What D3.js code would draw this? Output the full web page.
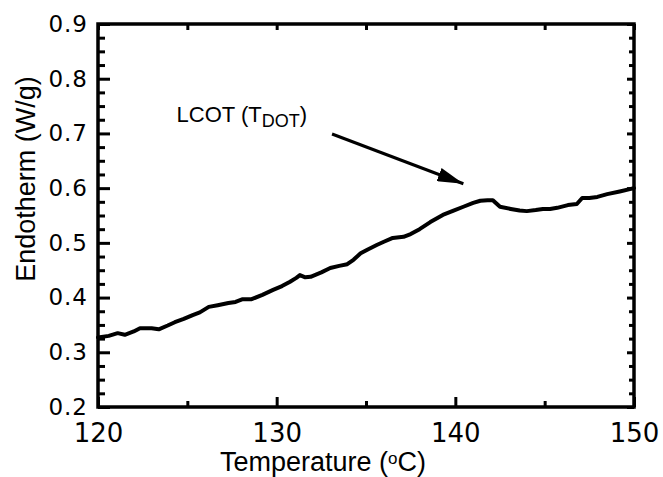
<!DOCTYPE html>
<html>
<head>
<meta charset="utf-8">
<script src="https://cdn.jsdelivr.net/npm/d3@7"></script>
<style>
  body { margin: 0; background: #fff; }
  svg { display: block; }
</style>
</head>
<body>
<div id="chart"></div>
<script>
// Data
const temperature = [
  120.0, 120.6, 121.1, 121.5, 122.0, 122.35, 123.0, 123.4, 123.9, 124.3,
  124.8, 125.3, 125.7, 126.2, 126.7, 127.3, 127.7, 128.1, 128.6, 129.2,
  129.8, 130.3, 130.75, 131.1, 131.3, 131.6, 131.9, 132.5, 133.0, 133.5,
  133.95, 134.3, 134.7, 135.1, 135.6, 136.0, 136.5, 137.1, 137.5, 138.0,
  138.6, 139.3, 139.9, 140.45, 141.0, 141.4, 141.8, 142.1, 142.3, 142.5,
  143.1, 143.6, 144.0, 144.5, 144.9, 145.3, 145.7, 146.3, 146.8, 147.1,
  147.5, 147.95, 148.5, 149.2, 150.0
];
const endotherm = [
  0.327, 0.330, 0.335, 0.332, 0.338, 0.344, 0.344, 0.342, 0.349, 0.355,
  0.361, 0.368, 0.373, 0.383, 0.386, 0.390, 0.392, 0.397, 0.397, 0.405,
  0.414, 0.421, 0.429, 0.436, 0.441, 0.437, 0.438, 0.446, 0.454, 0.458,
  0.461, 0.469, 0.481, 0.488, 0.496, 0.502, 0.509, 0.511, 0.516, 0.525,
  0.538, 0.551, 0.559, 0.566, 0.573, 0.577, 0.578, 0.578, 0.572, 0.566,
  0.562, 0.559, 0.558, 0.560, 0.562, 0.562, 0.564, 0.569, 0.571, 0.582,
  0.582, 0.584, 0.589, 0.594, 0.600
];
const xTicks = [120, 130, 140, 150];
const xMinor = [125, 135, 145];
const yTicks = [0.2, 0.3, 0.4, 0.5, 0.6, 0.7, 0.8, 0.9];
const yMinor = d3.range(0.225, 0.9, 0.025).filter((v) => Math.abs(v * 10 - Math.round(v * 10)) > 0.01);

// annotation
const arrowFrom = [133.1, 0.699];
const arrowTo = [140.45, 0.608];
const labelAt = [124.4, 0.721];

// Chart dimensions
const margin = { top: 24, right: 29, bottom: 70, left: 98 };
const width = 663 - margin.left - margin.right;
const height = 477 - margin.top - margin.bottom;

const svg = d3
  .select('#chart')
  .append('svg')
  .attr('width', 663)
  .attr('height', 477)
  .append('g')
  .attr('transform', `translate(${margin.left}, ${margin.top})`);

const x = d3.scaleLinear().domain([120, 150]).range([0, width]);
const y = d3.scaleLinear().domain([0.2, 0.9]).range([height, 0]);

const styleAxis = (g) => {
  g.select('.domain').remove();
  g.selectAll('line').attr('stroke', '#000').attr('stroke-width', 3);
};

// bottom axis
svg.append('g')
  .attr('transform', `translate(0, ${height})`)
  .call(d3.axisBottom(x).tickValues(xTicks).tickSize(-10).tickPadding(17).tickFormat(d3.format('d')))
  .call(styleAxis)
  .call((g) => g.selectAll('text')
    .attr('fill', '#000')
    .style('font-family', 'DejaVu Sans')
    .style('font-size', '26px'));
svg.append('g')
  .attr('transform', `translate(0, ${height})`)
  .call(d3.axisBottom(x).tickValues(xMinor).tickSize(-6).tickFormat(''))
  .call(styleAxis);

// top axis
svg.append('g')
  .call(d3.axisTop(x).tickValues(xTicks.concat(xMinor)).tickSize(-6).tickFormat(''))
  .call(styleAxis);

// left axis
svg.append('g')
  .call(d3.axisLeft(y).tickValues(yTicks).tickSize(-12).tickPadding(10).tickFormat(d3.format('.1f')))
  .call(styleAxis)
  .call((g) => g.selectAll('text')
    .attr('fill', '#000')
    .style('font-family', 'DejaVu Sans')
    .style('font-size', '23px')
    .style('letter-spacing', '1px'));
svg.append('g')
  .call(d3.axisLeft(y).tickValues(yMinor).tickSize(-7).tickFormat(''))
  .call(styleAxis);

// right axis
svg.append('g')
  .attr('transform', `translate(${width}, 0)`)
  .call(d3.axisRight(y).tickValues(yTicks).tickSize(-7).tickFormat(''))
  .call(styleAxis);
svg.append('g')
  .attr('transform', `translate(${width}, 0)`)
  .call(d3.axisRight(y).tickValues(yMinor).tickSize(-5).tickFormat(''))
  .call(styleAxis);

// frame
svg.append('rect')
  .attr('x', 0)
  .attr('y', 0)
  .attr('width', width)
  .attr('height', height)
  .attr('fill', 'none')
  .attr('stroke', '#000')
  .attr('stroke-width', 3.5);

// trace
const points = temperature.map((t, i) => [t, endotherm[i]]);
svg.append('path')
  .datum(points)
  .attr('fill', 'none')
  .attr('stroke', '#000')
  .attr('stroke-width', 4)
  .attr('stroke-linejoin', 'round')
  .attr('stroke-linecap', 'round')
  .attr('d', d3.line().x((d) => x(d[0])).y((d) => y(d[1])));

// arrow
svg.append('defs')
  .append('marker')
  .attr('id', 'head')
  .attr('markerUnits', 'userSpaceOnUse')
  .attr('viewBox', '0 0 26 14')
  .attr('refX', 26)
  .attr('refY', 7)
  .attr('markerWidth', 26)
  .attr('markerHeight', 14)
  .attr('orient', 'auto')
  .append('path')
  .attr('d', 'M0,0 L26,7 L0,14 Z')
  .attr('fill', '#000');

svg.append('line')
  .attr('x1', x(arrowFrom[0]))
  .attr('y1', y(arrowFrom[1]))
  .attr('x2', x(arrowTo[0]))
  .attr('y2', y(arrowTo[1]))
  .attr('stroke', '#000')
  .attr('stroke-width', 3)
  .attr('marker-end', 'url(#head)');

const label = svg.append('text')
  .attr('x', x(labelAt[0]))
  .attr('y', y(labelAt[1]))
  .style('font-family', 'Liberation Sans')
  .style('font-size', '22px')
  .attr('fill', '#000');
label.append('tspan').text('LCOT (T');
label.append('tspan').attr('dy', 5).style('font-size', '18px').text('DOT');
label.append('tspan').attr('dy', -5).text(')');

// axis titles
const xTitle = svg.append('text')
  .attr('x', 225)
  .attr('y', height + 64)
  .attr('text-anchor', 'middle')
  .style('font-family', 'Liberation Sans')
  .style('font-size', '27px')
  .attr('fill', '#000');
xTitle.append('tspan').text('Temperature (');
xTitle.append('tspan').attr('dy', -7).style('font-size', '17px').text('o');
xTitle.append('tspan').attr('dy', 7).text('C)');

svg.append('text')
  .attr('transform', `translate(${35 - margin.left}, ${179 - margin.top}) rotate(-90)`)
  .attr('text-anchor', 'middle')
  .style('font-family', 'Liberation Sans')
  .style('font-size', '27px')
  .attr('fill', '#000')
  .text('Endotherm (W/g)');
</script>
</body>
</html>
